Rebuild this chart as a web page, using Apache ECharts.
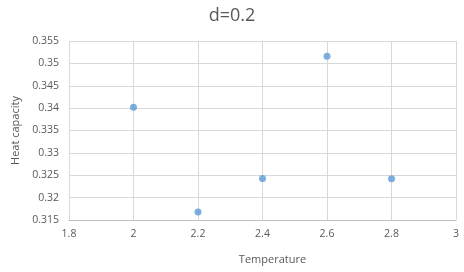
<!DOCTYPE html>
<html>
<head>
<meta charset="utf-8">
<script src="https://cdn.jsdelivr.net/npm/echarts@6/dist/echarts.min.js"></script>
<style>
  html, body { margin: 0; padding: 0; background: #fff; }
  #echart { width: 464px; height: 272px; }
</style>
</head>
<body>
<div id="echart"></div>
<script>
let echart = echarts.init(document.getElementById('echart'))

// data
let temperature = [2, 2.2, 2.4, 2.6, 2.8]
let heatCapacity = [0.3402, 0.3168, 0.3243, 0.3516, 0.3242]

let points = temperature.map((t, i) => [t, heatCapacity[i]])

let labelFont = {
    color: '#595959',
    fontSize: 10.5,
    fontFamily: 'Open Sans'
}
let nameFont = {
    color: '#595959',
    fontSize: 11,
    fontFamily: 'Open Sans'
}

let option = {
    animation: false,
    title: {
        text: 'd=0.2',
        left: 'center',
        top: 2,
        textStyle: {
            color: '#595959',
            fontSize: 18,
            fontWeight: 'normal',
            fontFamily: 'Open Sans'
        }
    },
    grid: {
        left: 69,
        right: 8,
        top: 41,
        bottom: 52
    },
    xAxis: {
        type: 'value',
        min: 1.8,
        max: 3,
        interval: 0.2,
        name: 'Temperature',
        nameLocation: 'middle',
        nameGap: 34,
        nameTextStyle: Object.assign({ padding: [0, 0, 0, 20] }, nameFont),
        axisLine: { show: true, lineStyle: { color: '#bfbfbf' } },
        axisTick: { show: false },
        axisLabel: Object.assign({ margin: 9 }, labelFont),
        splitLine: { show: true, lineStyle: { color: '#d9d9d9' } }
    },
    yAxis: {
        type: 'value',
        min: 0.315,
        max: 0.355,
        interval: 0.005,
        name: 'Heat capacity',
        nameLocation: 'middle',
        nameGap: 41,
        nameTextStyle: nameFont,
        axisLine: { show: false },
        axisTick: { show: false },
        axisLabel: Object.assign({ margin: 10 }, labelFont),
        splitLine: { show: true, lineStyle: { color: '#d9d9d9' } }
    },
    series: [
        {
            type: 'scatter',
            data: points,
            symbolSize: 7,
            itemStyle: { color: '#5b9bd5' }
        }
    ]
};

echart.setOption(option);
</script>
</body>
</html>
